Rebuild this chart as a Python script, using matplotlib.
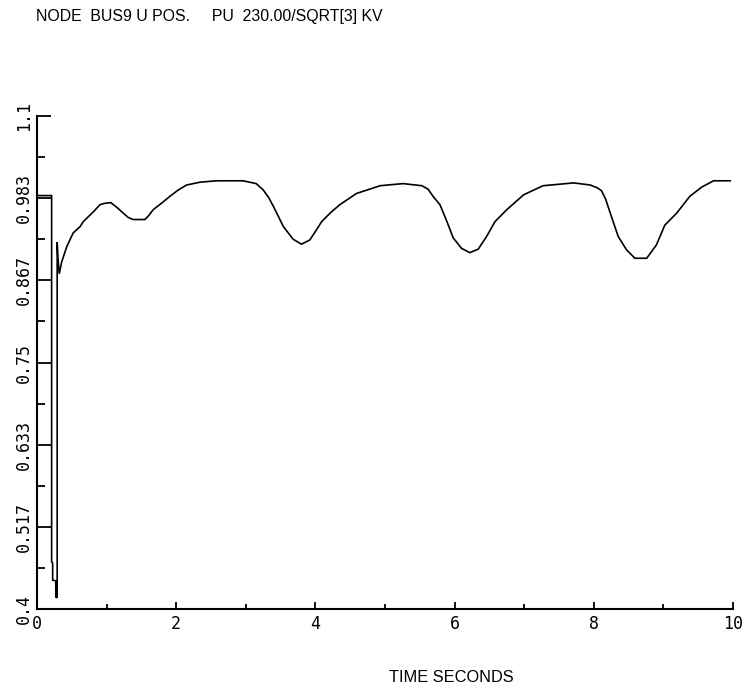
import matplotlib
matplotlib.use("Agg")
import matplotlib.pyplot as plt
from matplotlib.ticker import FixedLocator

# Positive-sequence voltage at BUS9 (per unit) versus time (s)
time_s = [0.00, 0.21, 0.21, 0.225, 0.225, 0.27, 0.27, 0.29, 0.29, 0.30, 0.32,
          0.355, 0.43, 0.52, 0.62, 0.665, 0.81, 0.905, 0.97, 1.06, 1.15,
          1.24, 1.31, 1.38, 1.55, 1.60, 1.67, 1.80, 1.91, 2.03, 2.15, 2.34,
          2.58, 2.96, 3.15, 3.25, 3.33, 3.40, 3.54, 3.68, 3.80, 3.92, 4.00,
          4.09, 4.22, 4.35, 4.59, 4.93, 5.26, 5.53, 5.62, 5.69, 5.79, 5.89,
          5.98, 6.10, 6.22, 6.34, 6.46, 6.58, 6.75, 6.99, 7.27, 7.71, 7.95,
          8.05, 8.11, 8.17, 8.23, 8.35, 8.47, 8.59, 8.76, 8.90, 9.02, 9.19,
          9.38, 9.55, 9.72, 9.96]
voltage_pu = [0.987, 0.987, 0.467, 0.465, 0.441, 0.440, 0.417, 0.416, 0.921,
              0.900, 0.876, 0.893, 0.915, 0.934, 0.943, 0.950, 0.964, 0.974,
              0.976, 0.977, 0.970, 0.962, 0.956, 0.953, 0.953, 0.958, 0.967,
              0.977, 0.986, 0.995, 1.002, 1.006, 1.008, 1.008, 1.004, 0.995,
              0.984, 0.971, 0.943, 0.925, 0.918, 0.924, 0.936, 0.950, 0.963,
              0.974, 0.990, 1.001, 1.004, 1.001, 0.996, 0.986, 0.974, 0.950,
              0.927, 0.912, 0.906, 0.911, 0.929, 0.950, 0.967, 0.988, 1.001,
              1.005, 1.002, 0.998, 0.994, 0.982, 0.964, 0.929, 0.910, 0.898,
              0.898, 0.917, 0.945, 0.962, 0.986, 0.999, 1.008, 1.008]

y_ticks = [0.4, 0.517, 0.633, 0.75, 0.867, 0.983, 1.1]
y_tick_labels = ["0.4", "0.517", "0.633", "0.75", "0.867", "0.983", "1.1"]
x_ticks = [0, 2, 4, 6, 8, 10]
x_tick_labels = ["0", "2", "4", "6", "8", "10"]

fig = plt.figure(figsize=(7.53, 6.89), dpi=100)
ax = fig.add_axes([37 / 753, 1 - 609 / 689, 696 / 753, 493 / 689])

ax.plot(time_s, voltage_pu, color="black", linewidth=1.2, solid_joinstyle="miter")

ax.set_xlim(0, 10)
ax.set_ylim(0.4, 1.1)

for side in ("top", "right"):
    ax.spines[side].set_visible(False)
for side in ("left", "bottom"):
    ax.spines[side].set_linewidth(1.5)

ax.set_yticks(y_ticks)
ax.set_yticklabels(y_tick_labels, rotation=90, va="center",
                   family="DejaVu Sans Mono", fontsize=12)
ax.set_xticks(x_ticks)
ax.set_xticklabels(x_tick_labels, family="DejaVu Sans Mono", fontsize=12)

y_minor = [(a + b) / 2 for a, b in zip(y_ticks[:-1], y_ticks[1:])]
x_minor = [(a + b) / 2 for a, b in zip(x_ticks[:-1], x_ticks[1:])]
ax.yaxis.set_minor_locator(FixedLocator(y_minor))
ax.xaxis.set_minor_locator(FixedLocator(x_minor))

ax.tick_params(axis="y", which="major", direction="in", length=10, width=1.3, pad=3)
ax.tick_params(axis="y", which="minor", direction="in", length=6, width=1.3)
ax.tick_params(axis="x", which="major", direction="in", length=5, width=1.3, pad=4)
ax.tick_params(axis="x", which="minor", direction="in", length=3.5, width=1.3)

fig.text(36 / 753, 1 - 16 / 689,
         "NODE  BUS9 U POS.     PU  230.00/SQRT[3] KV",
         family="Liberation Sans", fontsize=11.4, va="center", ha="left")
fig.text(451 / 753, 1 - 677 / 689, "TIME SECONDS",
         family="Liberation Sans", fontsize=11.8, va="center", ha="center")

fig.savefig("out.png", dpi=100)
